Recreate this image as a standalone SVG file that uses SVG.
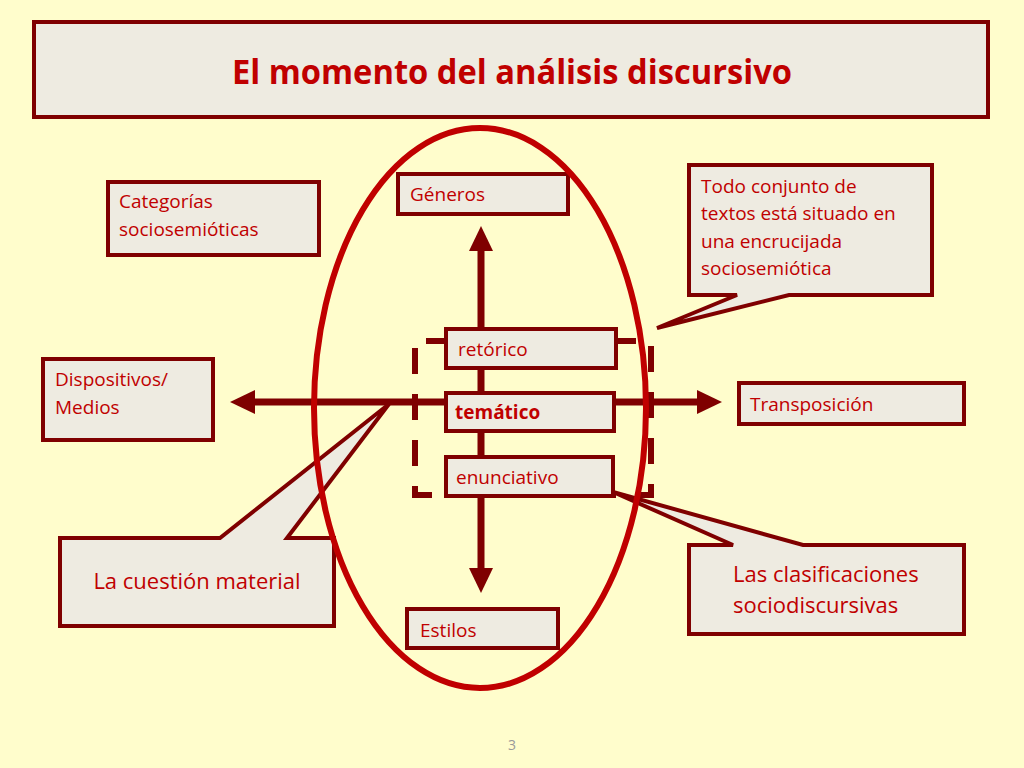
<svg xmlns="http://www.w3.org/2000/svg" width="1024" height="768" viewBox="0 0 1024 768">
  <defs>
    <style>
      .box { fill: #EEEBE1; stroke: #7F0000; stroke-width: 4; }
      .txt { font-family: "Open Sans", "Noto Sans", "Liberation Sans", sans-serif; font-size: 19px; fill: #C00000; }
      .big { font-size: 22px; }
      .line { stroke: #7F0000; stroke-width: 7; fill: none; }
      .head { fill: #7F0000; }
    </style>
  </defs>
  <rect x="0" y="0" width="1024" height="768" fill="#FFFDCC"/>

  <g id="title">
    <rect x="34" y="22" width="954" height="95" fill="#EEEBE1" stroke="#7F0000" stroke-width="4"/>
    <text x="512" y="84" text-anchor="middle" font-family="Open Sans, Noto Sans, Liberation Sans, sans-serif" font-size="34" font-weight="bold" fill="#C00000" textLength="560" lengthAdjust="spacingAndGlyphs">El momento del análisis discursivo</text>
  </g>

  <g id="connectors">
    <line class="line" x1="481" y1="248" x2="481" y2="570"/>
    <polygon class="head" points="481,226 469,251 493,251"/>
    <polygon class="head" points="481,593 469,568 493,568"/>
    <line class="line" x1="253" y1="402" x2="699" y2="402"/>
    <polygon class="head" points="230,402 255,390 255,414"/>
    <polygon class="head" points="722,402 697,390 697,414"/>
    <path d="M415,341 V495 H651 V341 H415" fill="none" stroke="#7F0000" stroke-width="6" stroke-dasharray="26 20" stroke-dashoffset="-7"/>
  </g>

  <g id="generos">
    <rect class="box" x="398" y="174" width="170" height="40"/>
    <text class="txt" x="410" y="201">Géneros</text>
  </g>
  <g id="retorico">
    <rect class="box" x="446" y="329" width="170" height="39"/>
    <text class="txt" x="458" y="356">retórico</text>
  </g>
  <g id="tematico">
    <rect class="box" x="446" y="393" width="168" height="38"/>
    <text class="txt" x="455" y="419" font-weight="bold">temático</text>
  </g>
  <g id="enunciativo">
    <rect class="box" x="446" y="457" width="167" height="39"/>
    <text class="txt" x="456" y="484">enunciativo</text>
  </g>
  <g id="estilos">
    <rect class="box" x="407" y="609" width="151" height="39"/>
    <text class="txt" x="420" y="637">Estilos</text>
  </g>
  <g id="categorias">
    <rect class="box" x="108" y="182" width="211" height="73"/>
    <text class="txt" x="119" y="208">Categorías</text>
    <text class="txt" x="119" y="236">sociosemióticas</text>
  </g>
  <g id="dispositivos">
    <rect class="box" x="43" y="359" width="170" height="81"/>
    <text class="txt" x="55" y="386">Dispositivos/</text>
    <text class="txt" x="55" y="414">Medios</text>
  </g>
  <g id="transposicion">
    <rect class="box" x="739" y="383" width="225" height="41"/>
    <text class="txt" x="750" y="411">Transposición</text>
  </g>

  <g id="todo-conjunto">
    <path class="box" d="M689,165 H932 V295 H789 L657,328 L737,295 H689 Z"/>
    <text class="txt" x="701" y="193">Todo conjunto de</text>
    <text class="txt" x="701" y="220">textos está situado en</text>
    <text class="txt" x="701" y="248">una encrucijada</text>
    <text class="txt" x="701" y="275">sociosemiótica</text>
  </g>
  <g id="cuestion-material">
    <path class="box" d="M60,538 H220 L389,404 L287,538 H334 V626 H60 Z"/>
    <text class="txt big" x="197" y="589" text-anchor="middle">La cuestión material</text>
  </g>
  <g id="clasificaciones">
    <path class="box" d="M689,545 H733 L613,492 L803,545 H964 V634 H689 Z"/>
    <text class="txt big" x="733" y="582">Las clasificaciones</text>
    <text class="txt big" x="733" y="613">sociodiscursivas</text>
  </g>

  <g id="ellipse">
    <ellipse cx="480" cy="408" rx="166" ry="280" fill="none" stroke="#C00000" stroke-width="6"/>
  </g>

  <text x="512" y="750" text-anchor="middle" font-family="Open Sans, Noto Sans, Liberation Sans, sans-serif" font-size="14" fill="#999999">3</text>
</svg>
